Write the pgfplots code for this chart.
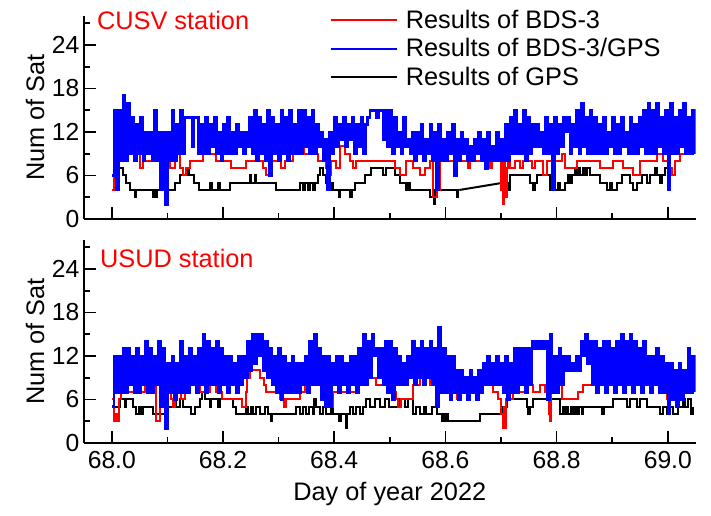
\documentclass[border=0pt]{standalone}
\usepackage{pgfplots}
\pgfplotsset{compat=1.18}
\usepackage{fontspec}
\setmainfont{Liberation Sans}

\pgfplotsset{
  myaxis/.style={
    scale only axis, width=458.7pt, height=152.25pt,
    xmin=67.95, xmax=69.05, ymin=0, ymax=28,
    axis lines*=left, axis line style={-, line width=1.3pt},
    xtick={68,68.2,68.4,68.6,68.8,69}, minor xtick={68.1,68.3,68.5,68.7,68.9},
    ytick={0,6,12,18,24}, minor ytick={3,9,15,21,27},
    tick align=inside, major tick length=9pt, minor tick length=4.5pt,
    tick style={black, line width=1.2pt},
    tick label style={font=\fontsize{18.5}{22}\selectfont},
    /pgf/number format/assume math mode=true,
    label style={font=\fontsize{19}{23}\selectfont},
    ylabel={Num of Sat},
    ylabel style={at={(axis description cs:-0.08,0.5)}, anchor=center},
    clip mode=individual,
  },
  ser/.style={const plot, line width=1.5pt},
  bser/.style={const plot, line width=1.9pt},
}

\begin{document}
\begin{tikzpicture}
% ---------------- top panel: CUSV ----------------
\begin{axis}[myaxis, name=top, at={(0,168pt)}, anchor=south west,
  xticklabels={},
  legend cell align=left,
  legend image code/.code={\draw[#1, line width=1.5pt] (0pt,0pt) -- (49pt,0pt); \path (54pt,0pt);},
  legend style={draw=none, fill=none, at={(axis description cs:0.4026,1.04)}, anchor=north west,
    inner sep=0pt, row sep=3pt, font=\fontsize{19}{22}\selectfont, nodes={inner sep=1.5pt}},
]
\addplot[ser, black, forget plot] coordinates {
(68.000,4)(68.004,6)(68.008,7)(68.020,6)(68.026,5)(68.032,4)(68.041,3)(68.043,4)(68.074,3)(68.078,4)(68.080,3)(68.082,4)(68.113,5)(68.122,6)(68.135,7)(68.138,6)(68.147,5)(68.156,4)(68.176,5)(68.180,4)(68.191,5)(68.194,4)(68.212,5)(68.248,6)(68.251,5)(68.257,6)(68.260,5)(68.296,4)(68.338,5)(68.344,4)(68.347,5)(68.353,4)(68.356,5)(68.362,4)(68.365,5)(68.371,6)(68.375,7)(68.379,6)(68.386,5)(68.392,4)(68.395,5)(68.398,4)(68.409,3)(68.411,4)(68.429,3)(68.432,4)(68.437,5)(68.455,6)(68.467,7)(68.488,6)(68.493,7)(68.509,6)(68.518,5)(68.529,4)(68.533,5)(68.537,4)(68.572,3)(68.580,2)(68.582,4)(68.620,3)(68.622,4)(68.625,4)
};
\addplot[black, line width=1.5pt, forget plot, sharp plot] coordinates {(68.625,4)(68.704,5)};
\addplot[ser, black, forget plot] coordinates {
(68.704,5)(68.712,4)(68.716,6)(68.752,5)(68.758,4)(68.761,5)(68.764,6)(68.788,4)(68.794,5)(68.796,4)(68.803,5)(68.806,4)(68.815,5)(68.821,6)(68.824,5)(68.827,6)(68.833,7)(68.835,6)(68.839,7)(68.842,6)(68.847,7)(68.851,6)(68.855,7)(68.860,6)(68.878,5)(68.890,4)(68.896,5)(68.899,4)(68.908,5)(68.917,6)(68.932,5)(68.938,4)(68.944,5)(68.953,6)(68.962,5)(68.968,6)(68.977,7)(68.980,6)(68.986,5)(68.989,6)(68.995,7)(69.000,7)
};
\addplot[ser, red, forget plot] coordinates {
(68.000,4)(68.004,7)(68.008,9)(68.014,10)(68.023,9)(68.032,10)(68.041,9)(68.050,7)(68.056,8)(68.104,7)(68.113,9)(68.122,7)(68.128,6)(68.133,7)(68.140,8)(68.164,9)(68.188,8)(68.215,7)(68.242,8)(68.272,7)(68.278,6)(68.287,8)(68.305,7)(68.311,8)(68.326,9)(68.338,10)(68.345,9)(68.356,10)(68.365,9)(68.371,8)(68.386,7)(68.391,6)(68.395,8)(68.403,7)(68.410,10)(68.419,9)(68.428,8)(68.434,7)(68.440,8)(68.509,7)(68.518,6)(68.530,8)(68.542,7)(68.554,6)(68.563,7)(68.572,8)(68.577,3)(68.584,4)(68.590,8)(68.640,7)(68.644,8)(68.680,7)(68.684,8)(68.700,4)(68.702,9)(68.704,2)(68.706,8)(68.708,3)(68.710,7)(68.712,8)(68.716,7)(68.725,8)(68.734,7)(68.740,8)(68.755,7)(68.761,8)(68.776,6)(68.782,8)(68.809,9)(68.815,7)(68.836,8)(68.878,7)(68.902,8)(68.920,7)(68.938,6)(68.950,8)(68.980,9)(68.992,8)(69.001,7)(69.007,6)(69.013,8)(69.022,9)(69.045,9)
};
\addplot[bser, blue, forget plot] coordinates {
(68.000,6)(68.004,15)(68.008,4)(68.012,15)(68.016,8)(68.020,17)(68.024,8)(68.028,16)(68.032,9)(68.036,14)
(68.040,8)(68.044,13)(68.048,9)(68.052,14)(68.056,8)(68.060,12)(68.064,9)(68.068,12)(68.072,8)(68.076,15)
(68.080,8)(68.084,12)(68.088,4)(68.092,12)(68.096,2)(68.100,12)(68.104,8)(68.108,15)(68.112,8)(68.116,13)
(68.120,9)(68.124,15)(68.128,9)(68.132,14)(68.136,14)(68.140,14)(68.144,10)(68.148,14)(68.152,14)(68.156,9)
(68.160,13)(68.164,9)(68.168,14)(68.172,9)(68.176,13)(68.180,10)(68.184,14)(68.188,9)(68.192,12)(68.196,8)
(68.200,13)(68.204,9)(68.208,14)(68.212,9)(68.216,12)(68.220,9)(68.224,13)(68.228,10)(68.232,12)(68.236,9)
(68.240,12)(68.244,10)(68.248,14)(68.252,9)(68.256,15)(68.260,8)(68.264,14)(68.268,9)(68.272,13)(68.276,8)
(68.280,15)(68.284,6)(68.288,14)(68.292,9)(68.296,13)(68.300,8)(68.304,15)(68.308,9)(68.312,14)(68.316,8)
(68.320,15)(68.324,9)(68.328,13)(68.332,9)(68.336,15)(68.340,9)(68.344,15)(68.348,10)(68.352,14)(68.356,9)
(68.360,15)(68.364,9)(68.368,13)(68.372,10)(68.376,12)(68.380,8)(68.384,11)(68.388,4)(68.392,12)(68.396,9)
(68.400,14)(68.404,10)(68.408,13)(68.412,11)(68.416,14)(68.420,10)(68.424,13)(68.428,11)(68.432,14)(68.436,9)
(68.440,13)(68.444,10)(68.448,14)(68.452,9)(68.456,13)(68.460,14)(68.464,15)(68.468,15)(68.472,15)(68.476,14)
(68.480,15)(68.484,15)(68.488,11)(68.492,15)(68.496,10)(68.500,15)(68.504,9)(68.508,14)(68.512,10)(68.516,12)
(68.520,9)(68.524,14)(68.528,10)(68.532,11)(68.536,9)(68.540,12)(68.544,8)(68.548,12)(68.552,9)(68.556,13)
(68.560,8)(68.564,11)(68.568,9)(68.572,13)(68.576,8)(68.580,12)(68.584,4)(68.588,13)(68.592,8)(68.596,11)
(68.600,8)(68.604,12)(68.608,9)(68.612,13)(68.616,6)(68.620,11)(68.624,8)(68.628,12)(68.632,9)(68.636,11)
(68.640,8)(68.644,10)(68.648,8)(68.652,11)(68.656,9)(68.660,12)(68.664,8)(68.668,11)(68.672,7)(68.676,12)
(68.680,8)(68.684,10)(68.688,8)(68.692,12)(68.696,8)(68.700,11)(68.704,8)(68.708,13)(68.712,8)(68.716,14)
(68.720,9)(68.724,15)(68.728,9)(68.732,13)(68.736,9)(68.740,15)(68.744,8)(68.748,14)(68.752,9)(68.756,13)
(68.760,10)(68.764,13)(68.768,10)(68.772,12)(68.776,9)(68.780,14)(68.784,9)(68.788,13)(68.792,4)(68.796,14)
(68.800,9)(68.804,13)(68.808,10)(68.812,14)(68.816,12)(68.820,14)(68.824,9)(68.828,13)(68.832,10)(68.836,15)
(68.840,9)(68.844,16)(68.848,10)(68.852,14)(68.856,9)(68.860,15)(68.864,9)(68.868,14)(68.872,9)(68.876,13)
(68.880,9)(68.884,14)(68.888,9)(68.892,12)(68.896,10)(68.900,14)(68.904,9)(68.908,13)(68.912,9)(68.916,14)
(68.920,10)(68.924,12)(68.928,9)(68.932,14)(68.936,9)(68.940,13)(68.944,9)(68.948,14)(68.952,10)(68.956,15)
(68.960,9)(68.964,16)(68.968,9)(68.972,15)(68.976,9)(68.980,16)(68.984,10)(68.988,14)(68.992,9)(68.996,15)
(69.000,4)(69.004,16)(69.008,9)(69.012,14)(69.016,9)(69.020,15)(69.024,10)(69.028,16)(69.032,9)(69.036,14)
(69.040,9)(69.044,15)(69.048,9)
};
\addlegendimage{red}
\addlegendentry{Results of BDS-3}
\addlegendimage{blue}
\addlegendentry{Results of BDS-3/GPS}
\addlegendimage{black}
\addlegendentry{Results of GPS}
\node[anchor=west, text=red, inner sep=0pt, font=\fontsize{19}{23}\selectfont] at (rel axis cs:0.021,0.98) {CUSV station};
\end{axis}
% ---------------- bottom panel: USUD ----------------
\begin{axis}[myaxis, name=bot, at={(0,0)}, anchor=south west,
  xticklabels={68.0,68.2,68.4,68.6,68.8,69.0},
  xticklabel style={yshift=-3pt},
  xlabel={Day of year 2022},
  xlabel style={at={(axis description cs:0.5,0)}, anchor=center, yshift=-38pt},
]
\addplot[ser, black] coordinates {
(68.000,5)(68.014,6)(68.023,5)(68.026,6)(68.038,5)(68.044,4)(68.049,5)(68.053,4)(68.056,5)(68.074,4)(68.101,5)(68.112,6)(68.115,5)(68.122,6)(68.128,5)(68.143,4)(68.149,5)(68.158,6)(68.163,7)(68.167,6)(68.176,5)(68.179,6)(68.191,5)(68.195,6)(68.218,5)(68.224,4)(68.242,5)(68.245,4)(68.251,5)(68.254,4)(68.260,5)(68.266,4)(68.275,5)(68.281,4)(68.286,3)(68.289,4)(68.332,5)(68.338,4)(68.344,5)(68.349,4)(68.355,5)(68.361,4)(68.364,6)(68.367,5)(68.374,4)(68.379,5)(68.386,4)(68.395,6)(68.398,4)(68.409,3)(68.412,4)(68.421,2)(68.423,4)(68.428,5)(68.434,4)(68.440,5)(68.446,4)(68.451,5)(68.458,6)(68.464,5)(68.473,6)(68.482,5)(68.491,6)(68.499,5)(68.518,6)(68.527,5)(68.533,6)(68.542,4)(68.548,5)(68.554,4)(68.561,5)(68.566,4)(68.575,5)(68.584,4)(68.593,3)(68.596,4)(68.599,3)(68.602,4)(68.605,3)(68.662,4)(68.701,5)(68.710,6)(68.746,5)(68.749,4)(68.753,5)(68.758,6)(68.806,4)(68.811,5)(68.815,4)(68.818,5)(68.821,4)(68.825,5)(68.829,4)(68.833,5)(68.836,4)(68.841,5)(68.845,4)(68.848,5)(68.881,4)(68.885,5)(68.902,6)(68.926,5)(68.932,6)(68.944,5)(68.950,6)(68.962,5)(68.986,4)(68.992,5)(68.998,4)(69.004,5)(69.010,4)(69.019,5)(69.028,6)(69.031,5)(69.037,6)(69.041,4)(69.045,5)
};
\addplot[ser, red] coordinates {
(68.000,6)(68.004,3)(68.007,4)(68.010,3)(68.013,6)(68.016,7)(68.059,8)(68.080,3)(68.086,7)(68.107,6)(68.110,5)(68.113,6)(68.118,7)(68.125,6)(68.131,7)(68.140,8)(68.158,7)(68.176,8)(68.188,7)(68.199,6)(68.235,5)(68.241,7)(68.243,9)(68.248,10)(68.266,9)(68.273,8)(68.278,7)(68.302,6)(68.309,5)(68.314,6)(68.338,7)(68.347,8)(68.383,6)(68.393,5)(68.398,7)(68.440,8)(68.452,9)(68.476,8)(68.500,7)(68.512,6)(68.515,5)(68.521,6)(68.542,8)(68.554,9)(68.572,8)(68.608,7)(68.620,6)(68.626,8)(68.686,7)(68.695,6)(68.700,4)(68.703,2)(68.705,5)(68.707,2)(68.709,6)(68.722,7)(68.746,8)(68.758,7)(68.770,8)(68.779,7)(68.787,4)(68.789,3)(68.790,7)(68.794,8)(68.809,6)(68.839,7)(68.848,8)(68.866,9)(68.872,8)(68.986,7)(68.998,6)(69.022,7)(69.045,7)
};
\addplot[bser, blue] coordinates {
(68.000,5)(68.004,12)(68.008,7)(68.012,12)(68.016,7)(68.020,13)(68.024,7)(68.028,13)(68.032,8)(68.036,12)
(68.040,7)(68.044,13)(68.048,7)(68.052,12)(68.056,8)(68.060,14)(68.064,7)(68.068,13)(68.072,7)(68.076,12)
(68.080,8)(68.084,14)(68.088,5)(68.092,13)(68.096,2)(68.100,11)(68.104,7)(68.108,12)(68.112,6)(68.116,11)
(68.120,7)(68.124,14)(68.128,7)(68.132,12)(68.136,7)(68.140,13)(68.144,8)(68.148,12)(68.152,7)(68.156,13)
(68.160,8)(68.164,15)(68.168,7)(68.172,14)(68.176,8)(68.180,13)(68.184,8)(68.188,14)(68.192,7)(68.196,13)
(68.200,8)(68.204,12)(68.208,7)(68.212,12)(68.216,8)(68.220,11)(68.224,7)(68.228,12)(68.232,8)(68.236,12)
(68.240,9)(68.244,14)(68.248,10)(68.252,15)(68.256,11)(68.260,15)(68.264,12)(68.268,15)(68.272,10)(68.276,14)
(68.280,9)(68.284,13)(68.288,8)(68.292,12)(68.296,7)(68.300,13)(68.304,6)(68.308,12)(68.312,7)(68.316,11)
(68.320,7)(68.324,12)(68.328,7)(68.332,11)(68.336,7)(68.340,11)(68.344,8)(68.348,12)(68.352,7)(68.356,14)
(68.360,8)(68.364,15)(68.368,8)(68.372,13)(68.376,6)(68.380,12)(68.384,5)(68.388,12)(68.392,5)(68.396,11)
(68.400,8)(68.404,12)(68.408,7)(68.412,12)(68.416,8)(68.420,11)(68.424,7)(68.428,12)(68.432,8)(68.436,12)
(68.440,7)(68.444,13)(68.448,8)(68.452,15)(68.456,8)(68.460,14)(68.464,9)(68.468,15)(68.472,12)(68.476,13)
(68.480,9)(68.484,13)(68.488,8)(68.492,14)(68.496,7)(68.500,14)(68.504,6)(68.508,13)(68.512,8)(68.516,12)
(68.520,8)(68.524,11)(68.528,8)(68.532,12)(68.536,9)(68.540,14)(68.544,8)(68.548,13)(68.552,9)(68.556,14)
(68.560,8)(68.564,13)(68.568,9)(68.572,14)(68.576,8)(68.580,13)(68.584,5)(68.588,16)(68.592,7)(68.596,13)
(68.600,7)(68.604,12)(68.608,6)(68.612,12)(68.616,7)(68.620,10)(68.624,6)(68.628,10)(68.632,7)(68.636,9)
(68.640,6)(68.644,10)(68.648,7)(68.652,9)(68.656,6)(68.660,10)(68.664,7)(68.668,11)(68.672,8)(68.676,12)
(68.680,8)(68.684,11)(68.688,8)(68.692,12)(68.696,8)(68.700,11)(68.704,7)(68.708,12)(68.712,6)(68.716,11)
(68.720,7)(68.724,13)(68.728,7)(68.732,13)(68.736,8)(68.740,13)(68.744,7)(68.748,13)(68.752,8)(68.756,14)
(68.760,13)(68.764,14)(68.768,13)(68.772,14)(68.776,13)(68.780,14)(68.784,6)(68.788,15)(68.792,7)(68.796,12)
(68.800,7)(68.804,13)(68.808,8)(68.812,12)(68.816,10)(68.820,12)(68.824,10)(68.828,11)(68.832,10)(68.836,12)
(68.840,10)(68.844,14)(68.848,12)(68.852,15)(68.856,11)(68.860,14)(68.864,8)(68.868,14)(68.872,7)(68.876,13)
(68.880,8)(68.884,14)(68.888,7)(68.892,14)(68.896,8)(68.900,13)(68.904,7)(68.908,14)(68.912,8)(68.916,15)
(68.920,7)(68.924,14)(68.928,8)(68.932,15)(68.936,7)(68.940,14)(68.944,8)(68.948,13)(68.952,7)(68.956,14)
(68.960,8)(68.964,12)(68.968,7)(68.972,12)(68.976,8)(68.980,13)(68.984,7)(68.988,12)(68.992,7)(68.996,11)
(69.000,4)(69.004,11)(69.008,6)(69.012,10)(69.016,5)(69.020,11)(69.024,6)(69.028,10)(69.032,7)(69.036,13)
(69.040,7)(69.044,12)(69.048,7)
};
\node[anchor=west, text=red, inner sep=0pt, font=\fontsize{19}{23}\selectfont] at (rel axis cs:0.026,0.91) {USUD station};
\end{axis}
\pgfresetboundingbox
\path[use as bounding box] (-63pt,-54.75pt) rectangle (470.25pt,332.25pt);
\end{tikzpicture}
\end{document}
